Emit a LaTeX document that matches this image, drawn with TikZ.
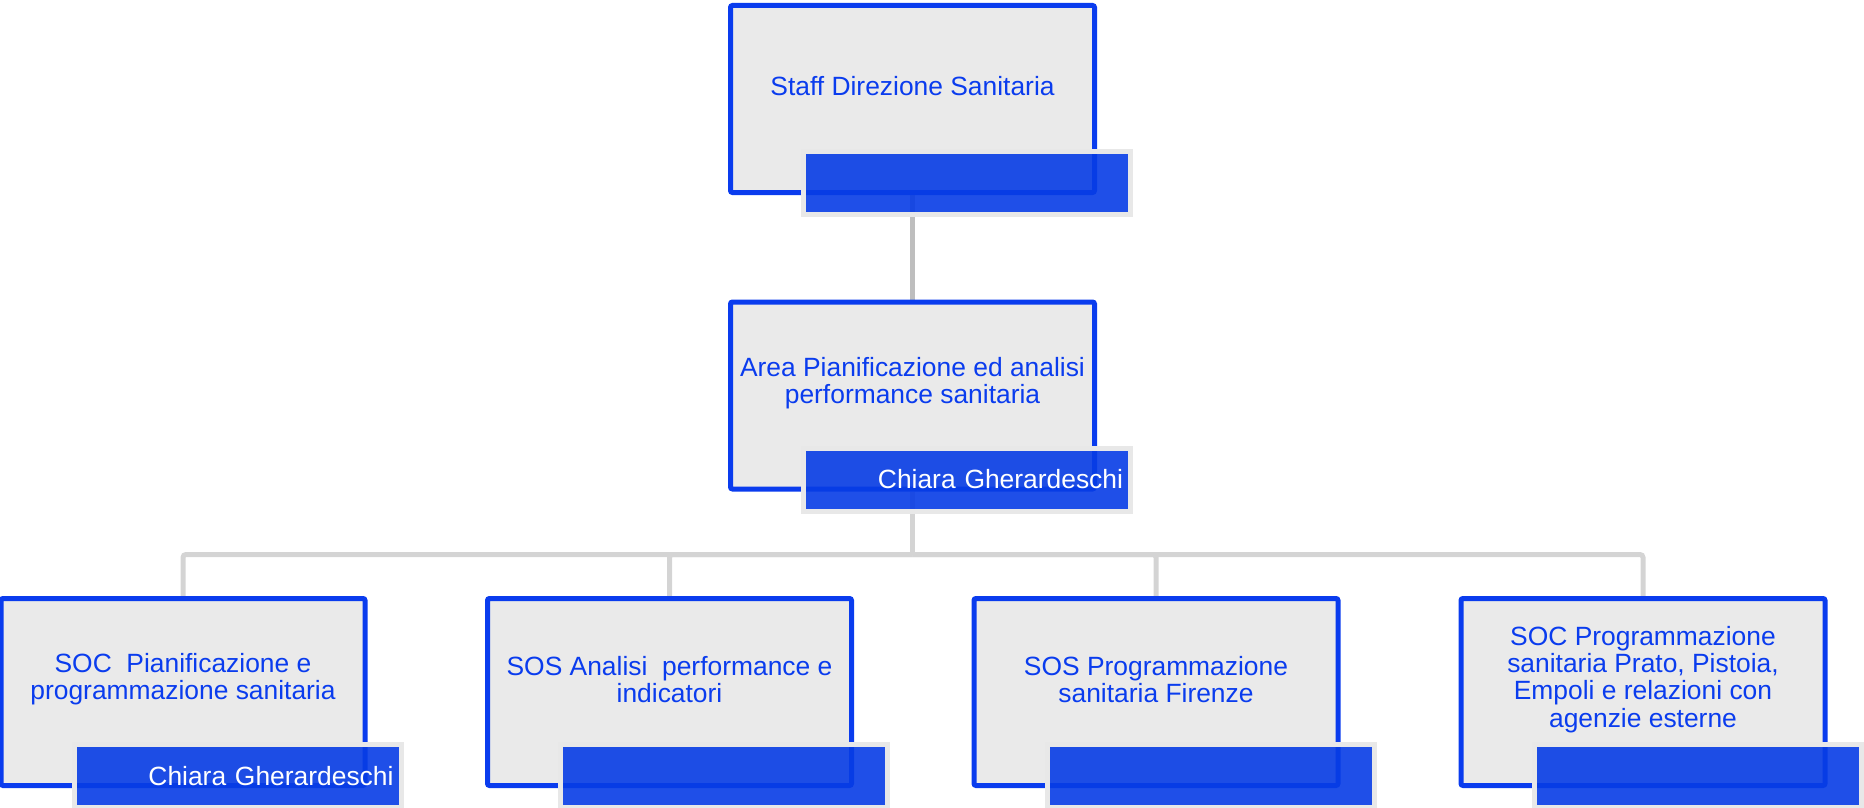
\documentclass[tikz,border=0pt]{standalone}
\usepackage{fontspec}
\setmainfont{Liberation Sans}
\usetikzlibrary{backgrounds}
\definecolor{unitblue}{RGB}{10,60,238}
\definecolor{unitgrey}{RGB}{234,234,234}
\definecolor{barblue}{RGB}{7,60,229}
\definecolor{barrim}{RGB}{232,232,232}
\definecolor{linkdark}{RGB}{190,190,190}
\definecolor{linklight}{RGB}{212,212,212}
\begin{document}
\begin{tikzpicture}[x=1pt, y=-1pt,
	unit/.style={draw=unitblue, fill=unitgrey, line width=5pt, rounded corners=2pt,
		minimum width=364pt, minimum height=187pt, inner sep=0pt},
	unittext/.style={text=unitblue, align=center, inner sep=0pt, yshift=12.5pt,
		font=\fontsize{26.4}{27.3}\selectfont},
	namebar/.style={draw=barrim, fill=barblue, fill opacity=.9, text opacity=1, line width=5pt,
		minimum width=327pt, minimum height=63pt, inner sep=0pt, text width=312pt,
		align=right, text=white, font=\fontsize{26.4}{27.3}\selectfont,
		xshift=54.5pt, yshift=-84pt},
	link/.style={draw=linklight, line width=5pt, rounded corners=3pt}]
	\useasboundingbox (0,0) rectangle (1864,808);
	% boxes
	\node[unit] (staff) at (912.5,99)  {};
	\node[unit] (area)  at (912.5,395.5) {};
	\node[unit] (soc1)  at (183,692)   {};
	\node[unit] (sos1)  at (669.5,692) {};
	\node[unit] (sos2)  at (1156,692)  {};
	\node[unit] (soc2)  at (1643,692)  {};
	% texts
	\node[unittext] (staff-t) at (staff) {Staff Direzione Sanitaria};
	\node[unittext] (area-t)  at (area)  {Area Pianificazione ed analisi\\performance sanitaria};
	\node[unittext] (soc1-t)  at (soc1)  {SOC~ Pianificazione e\\programmazione sanitaria};
	\node[unittext] (sos1-t)  at (sos1)  {SOS Analisi~ performance e\\indicatori};
	\node[unittext] (sos2-t)  at (sos2)  {SOS Programmazione\\sanitaria Firenze};
	\node[unittext] (soc2-t)  at (soc2)  {SOC Programmazione\\sanitaria Prato, Pistoia,\\Empoli e relazioni con\\agenzie esterne};
	% name bars
	\node[namebar] (staff-n) at (staff) {};
	\node[namebar] (area-n)  at (area)  {Chiara Gherardeschi};
	\node[namebar] (soc1-n)  at (soc1)  {Chiara Gherardeschi};
	\node[namebar] (sos1-n)  at (sos1)  {};
	\node[namebar] (sos2-n)  at (sos2)  {};
	\node[namebar] (soc2-n)  at (soc2)  {};
	% links
	\begin{scope}[on background layer]
		\draw[link, draw=linkdark] (staff.south) -- (area.north);
		\coordinate (hub) at (912.5,554.5);
		\draw[link] (area.south) -- (hub);
		\draw[link] (hub) -| (soc1.north);
		\draw[link] (hub) -| (sos1.north);
		\draw[link] (hub) -| (sos2.north);
		\draw[link] (hub) -| (soc2.north);
	\end{scope}
\end{tikzpicture}
\end{document}
